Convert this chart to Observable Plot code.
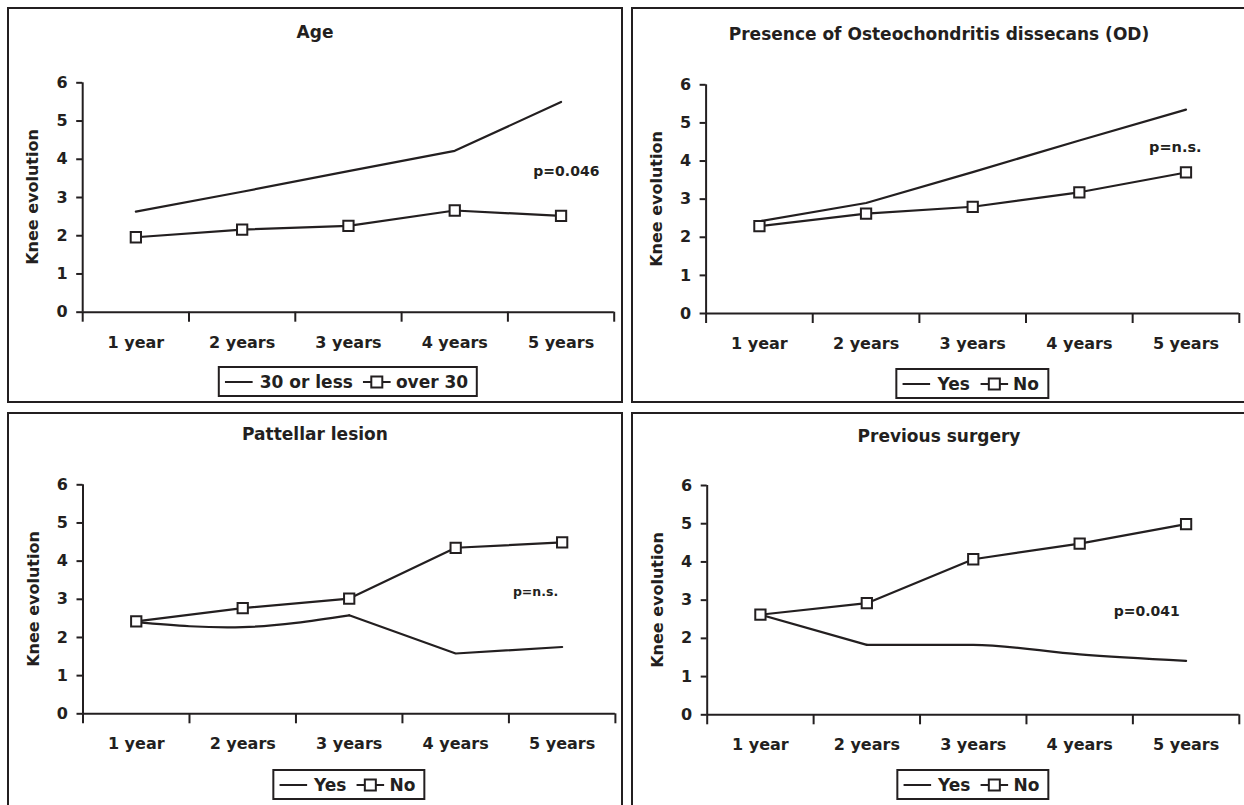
<!DOCTYPE html>
<html>
<head>
<meta charset="utf-8">
<script src="https://cdn.jsdelivr.net/npm/d3@7"></script>
<script src="https://cdn.jsdelivr.net/npm/@observablehq/plot@0.6"></script>
<style>
  html, body { margin: 0; padding: 0; background: #fff; overflow: hidden; }
  #page { width: 1244px; height: 805px; overflow: hidden; position: relative;
          font-family: "DejaVu Sans", sans-serif; font-weight: bold; color: #231f20; }
  .panel { position: absolute; box-sizing: border-box; border: 2px solid #231f20; overflow: hidden; background: #fff; }
  .panel > svg { position: absolute; left: 0; top: 0; background: transparent; max-width: none; }
  .title { position: absolute; white-space: nowrap; font-size: 17px; line-height: 17px; transform: translateX(-50%); }
  .ylab { position: absolute; white-space: nowrap; font-size: 16px; line-height: 16px; transform: translate(-50%, -50%) rotate(-90deg); }
  .legend { position: absolute; box-sizing: border-box; height: 31px; border: 2px solid #231f20; background: #fff;
            display: flex; align-items: center; padding: 0 8px 0 5px; font-size: 17px; white-space: nowrap;
            transform: translateX(-50%); }
  .legend svg { display: block; }
</style>
</head>
<body>
<div id="page"></div>
<script>
// ---------- data ----------
const years = ["1 year", "2 years", "3 years", "4 years", "5 years"];
const yTicks = [0, 1, 2, 3, 4, 5, 6];
const titles = ["Age", "Presence of Osteochondritis dissecans (OD)", "Pattellar lesion", "Previous surgery"];
const yLabel = "Knee evolution";
const lineNames = ["30 or less", "Yes", "Yes", "Yes"];
const squareNames = ["over 30", "No", "No", "No"];
const pValues = ["p=0.046", "p=n.s.", "p=n.s.", "p=0.041"];

const ageLine     = [2.63, 3.15, 3.69, 4.22, 5.50];
const ageSquare   = [1.96, 2.16, 2.26, 2.66, 2.52];
const odLine      = [2.42, 2.90, 3.71, 4.54, 5.35];
const odSquare    = [2.29, 2.62, 2.80, 3.18, 3.70];
const patLine     = [2.40, 2.27, 2.58, 1.58, 1.75];
const patSquare   = [2.42, 2.77, 3.02, 4.35, 4.49];
const surgLine    = [2.62, 1.83, 1.83, 1.58, 1.41];
const surgSquare  = [2.62, 2.92, 4.07, 4.48, 4.99];

// ---------- layout ----------
const INK = "#231f20";
const panels = [
  { title: titles[0], lineName: lineNames[0], squareName: squareNames[0], line: ageLine, square: ageSquare, p: pValues[0],
    box: {left: 7, top: 7, width: 616, height: 396}, svgH: 392,
    margin: {top: 73.3, right: 7.3, bottom: 89.3, left: 73.2},
    titleTop: 14.6, legendTop: 357, pAt: [5.05, 3.68], pSize: 14,
    segments: [[0, 4, "linear"]] },
  { title: titles[1], lineName: lineNames[1], squareName: squareNames[1], line: odLine, square: odSquare, p: pValues[1],
    box: {left: 631, top: 7, width: 624, height: 396}, svgH: 392,
    margin: {top: 75.3, right: 14.2, bottom: 88, left: 72.6},
    titleTop: 16.6, legendTop: 359, pAt: [4.90, 4.35], pSize: 14.5,
    segments: [[0, 4, "linear"]] },
  { title: titles[2], lineName: lineNames[2], squareName: squareNames[2], line: patLine, square: patSquare, p: pValues[2],
    box: {left: 7, top: 412, width: 616, height: 400}, svgH: 392,
    margin: {top: 70.3, right: 6.1, bottom: 92.7, left: 73.5},
    titleTop: 11.6, legendTop: 355, pAt: [4.75, 3.20], pSize: 12.5,
    segments: [[0, 2, "natural"], [2, 4, "linear"]] },
  { title: titles[3], lineName: lineNames[3], squareName: squareNames[3], line: surgLine, square: surgSquare, p: pValues[3],
    box: {left: 631, top: 412, width: 624, height: 400}, svgH: 392,
    margin: {top: 71, right: 14.2, bottom: 91.7, left: 73.7},
    titleTop: 14.3, legendTop: 355, pAt: [4.63, 2.71], pSize: 14,
    segments: [[0, 1, "linear"], [1, 4, "monotone-x"]] }
];

const xCenters = years.map((_, i) => i + 1);
const xBounds = years.map((_, i) => i + 0.5).concat([years.length + 0.5]);

function legendHTML(a, b) {
  const lineSvg = `<svg width="28" height="14"><line x1="0" x2="28" y1="7" y2="7" stroke="${INK}" stroke-width="2"/></svg>`;
  const markSvg = `<svg width="28" height="14"><line x1="0" x2="28" y1="7" y2="7" stroke="${INK}" stroke-width="2"/><rect x="8.5" y="1.5" width="11" height="11" fill="#fff" stroke="${INK}" stroke-width="2"/></svg>`;
  return `${lineSvg}<span style="margin-left:7px">${a}</span><span style="margin-left:10px;display:block">${markSvg}</span><span style="margin-left:5px">${b}</span>`;
}

const page = document.getElementById("page");

for (const P of panels) {
  const div = document.createElement("div");
  div.className = "panel";
  Object.assign(div.style, {left: P.box.left + "px", top: P.box.top + "px", width: P.box.width + "px", height: P.box.height + "px"});
  page.appendChild(div);

  const W = P.box.width - 4;
  const lineRows = P.line.map((v, i) => ({x: xCenters[i], v}));
  const squareRows = P.square.map((v, i) => ({x: xCenters[i], v}));

  const segMarks = P.segments.map(([a, b, curve]) =>
    Plot.line(lineRows.slice(a, b + 1), {x: "x", y: "v", stroke: INK, strokeWidth: 2.2, curve}));

  const chart = Plot.plot({
    width: W,
    height: P.svgH,
    marginTop: P.margin.top, marginRight: P.margin.right, marginBottom: P.margin.bottom, marginLeft: P.margin.left,
    x: {type: "linear", domain: [0.5, years.length + 0.5]},
    y: {domain: [0, 6]},
    style: {fontFamily: "'DejaVu Sans', sans-serif", fontWeight: "bold", fontSize: "16px", color: INK, background: "transparent", overflow: "visible", maxWidth: "none"},
    marks: [
      Plot.ruleY([0], {stroke: INK, strokeWidth: 2}),
      Plot.ruleX([0.5], {stroke: INK, strokeWidth: 2}),
      Plot.axisY({ticks: yTicks, tickSize: 6, tickPadding: 9, tickFormat: (d) => String(d), label: null, strokeWidth: 2}),
      Plot.axisX({ticks: xCenters, tickSize: 0, tickPadding: 24, tickFormat: (d) => years[Math.round(d) - 1], label: null}),
      Plot.axisX({ticks: xBounds, tickSize: 10, tickFormat: () => "", label: null, strokeWidth: 2}),
      ...segMarks,
      Plot.line(squareRows, {x: "x", y: "v", stroke: INK, strokeWidth: 2.2}),
      Plot.dot(squareRows, {x: "x", y: "v", symbol: "square", r: 5.8, fill: "#fff", stroke: INK, strokeWidth: 2}),
      Plot.text([{x: P.pAt[0], y: P.pAt[1], t: P.p}], {x: "x", y: "y", text: "t", fontSize: P.pSize, fontWeight: "bold", fill: INK})
    ]
  });
  div.appendChild(chart);

  const frameL = P.margin.left, frameR = W - P.margin.right;
  const frameT = P.margin.top, frameB = P.svgH - P.margin.bottom;

  const t = document.createElement("div");
  t.className = "title";
  t.textContent = P.title;
  t.style.left = "306px";
  t.style.top = P.titleTop + "px";
  div.appendChild(t);

  const yl = document.createElement("div");
  yl.className = "ylab";
  yl.textContent = yLabel;
  yl.style.left = (frameL - 49) + "px";
  yl.style.top = ((frameT + frameB) / 2) + "px";
  div.appendChild(yl);

  const lg = document.createElement("div");
  lg.className = "legend";
  lg.innerHTML = legendHTML(P.lineName, P.squareName);
  lg.style.left = ((frameL + frameR) / 2) + "px";
  lg.style.top = P.legendTop + "px";
  div.appendChild(lg);
}
</script>
</body>
</html>
